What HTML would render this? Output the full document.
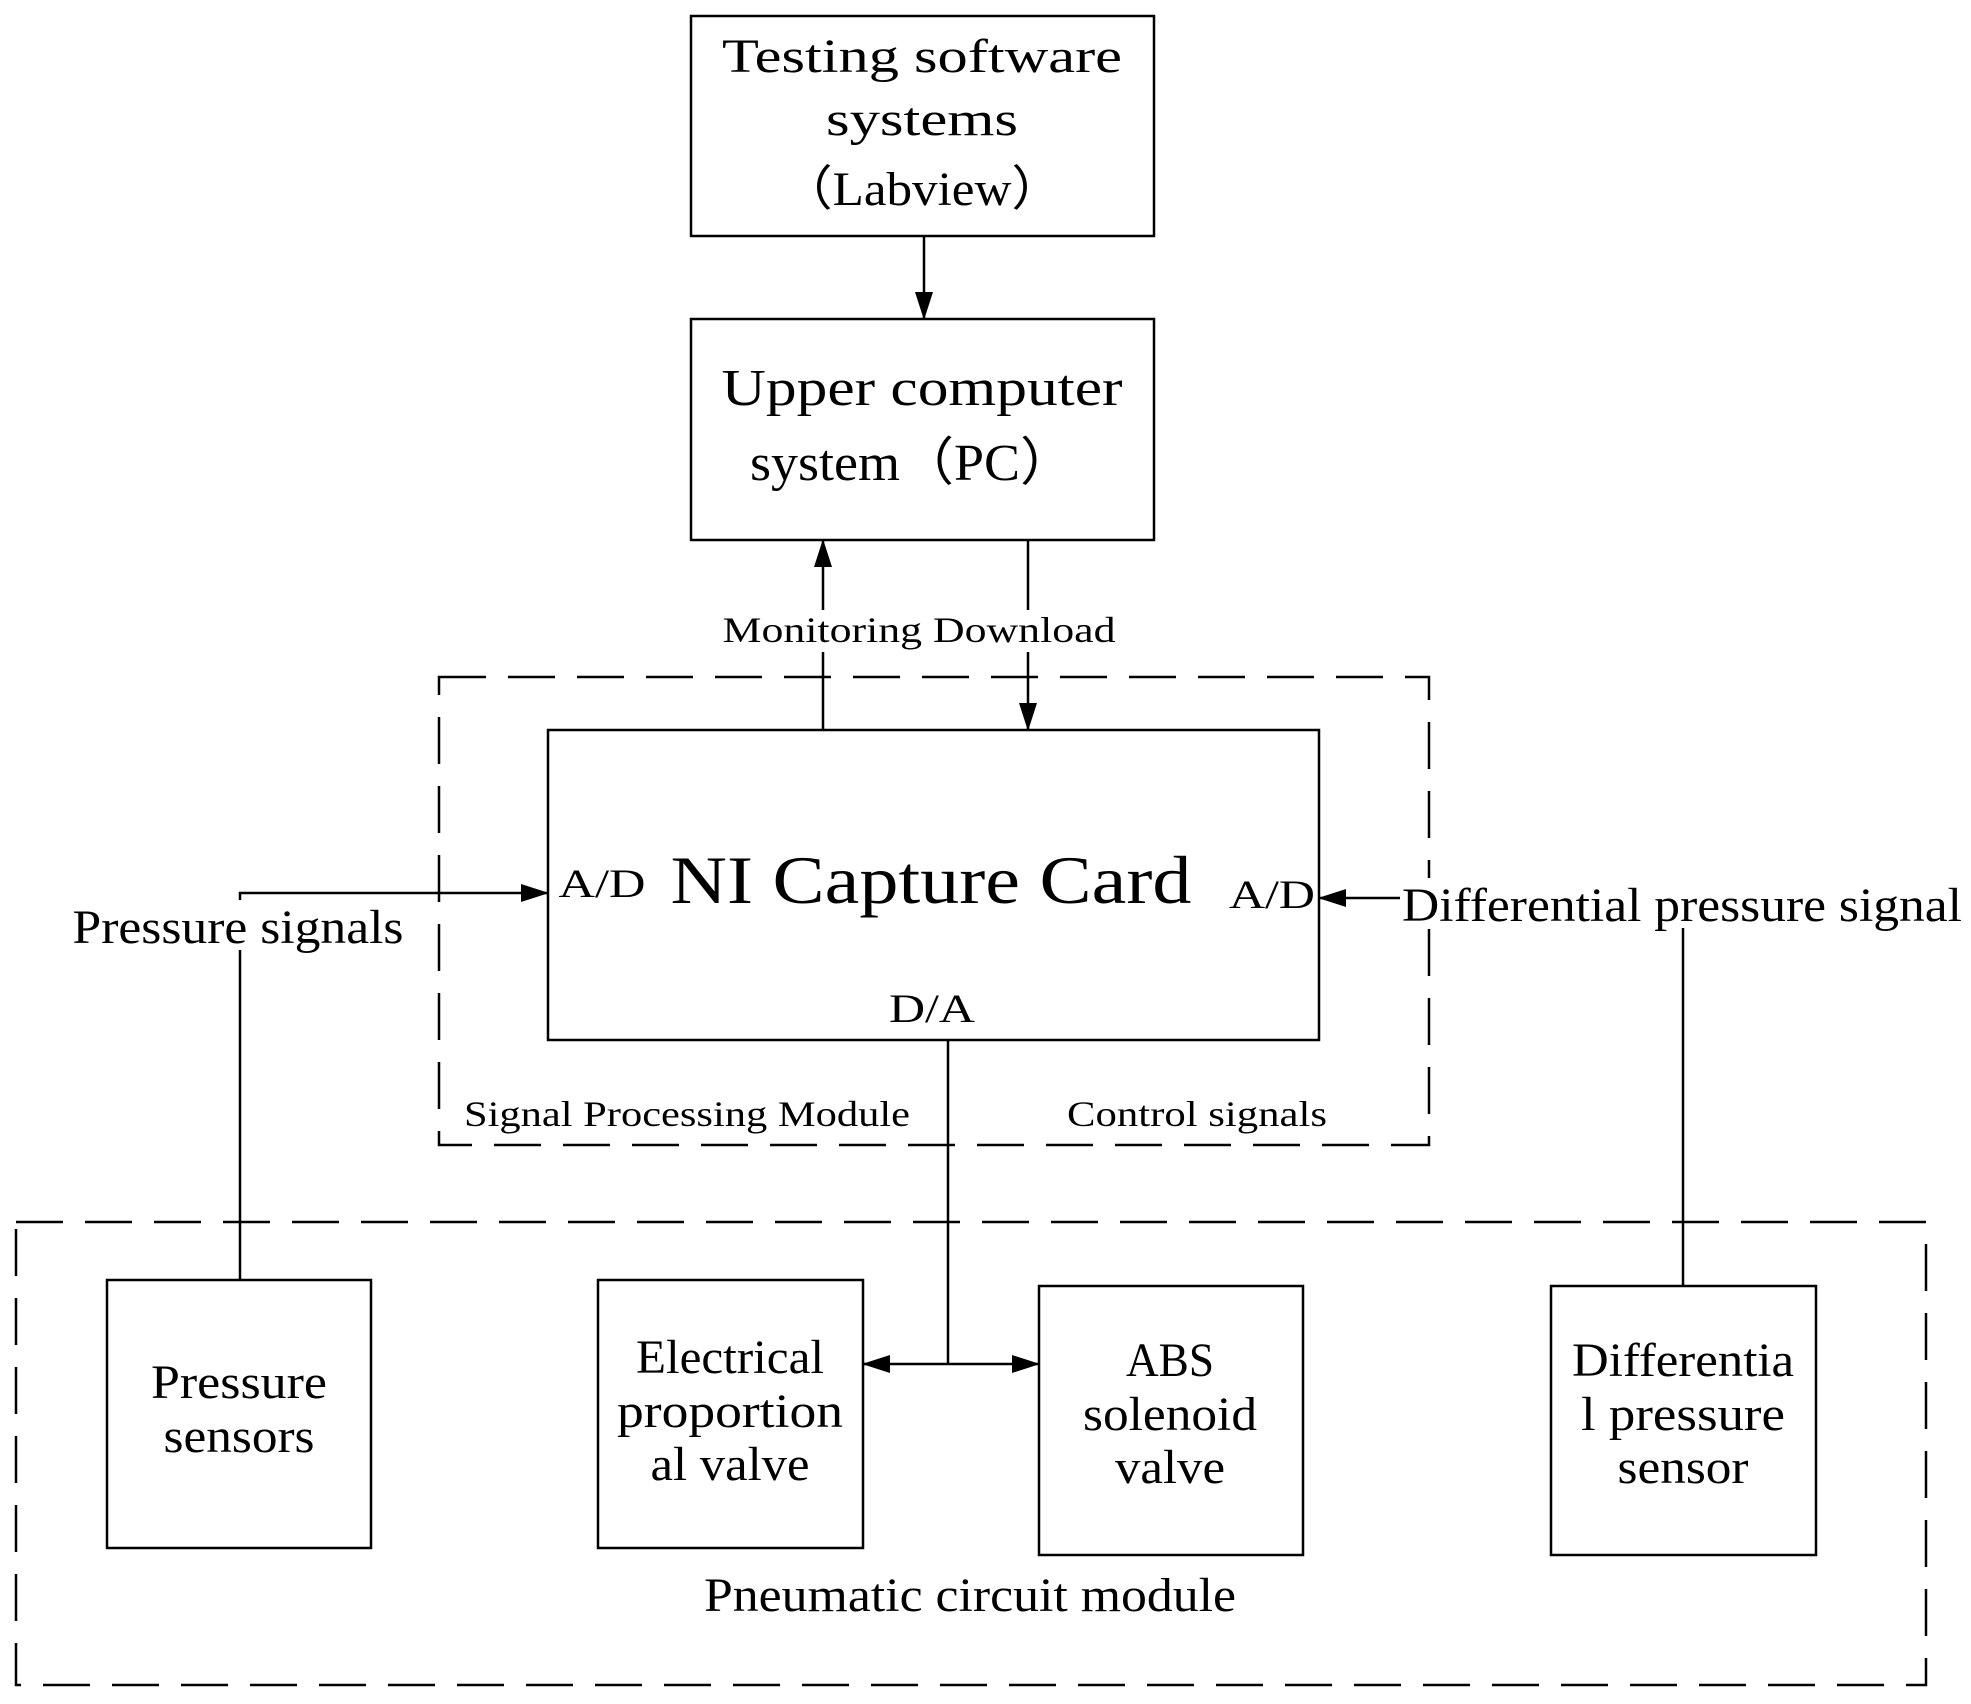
<!DOCTYPE html>
<html><head><meta charset="utf-8"><style>html,body{margin:0;padding:0;background:#fff}svg{display:block}text{font-family:"Liberation Serif",serif;fill:#000}</style></head>
<body>
<svg width="1971" height="1704" viewBox="0 0 1971 1704" xmlns="http://www.w3.org/2000/svg">
<defs><marker id="a" markerWidth="10" markerHeight="10" refX="9" refY="5" orient="auto" markerUnits="userSpaceOnUse" viewBox="0 0 10 10"><path d="M0,0 L10,5 L0,10z" fill="#000"/></marker>
<marker id="b" markerWidth="28" markerHeight="28" refX="27" refY="14" orient="auto" markerUnits="userSpaceOnUse" viewBox="0 0 28 28"><path d="M0,5 L28,14 L0,23z" fill="#000"/></marker></defs>
<g fill="none" stroke="#000" stroke-width="2.5">
<rect x="691" y="16" width="463" height="220"/>
<rect x="691" y="319" width="463" height="221"/>
<rect x="548" y="730" width="771" height="310"/>
<rect x="107" y="1280" width="264" height="268"/>
<rect x="598" y="1280" width="265" height="268"/>
<rect x="1039" y="1286" width="264" height="269"/>
<rect x="1551" y="1286" width="265" height="269"/>
<g stroke-dasharray="47,22"><rect x="439" y="677" width="990" height="468"/><rect x="16" y="1222" width="1910" height="463"/></g>
<line x1="924" y1="236" x2="924" y2="319" marker-end="url(#b)"/>
<line x1="823" y1="730" x2="823" y2="540" marker-end="url(#b)"/>
<line x1="1028" y1="540" x2="1028" y2="730" marker-end="url(#b)"/>
<polyline points="240,1280 240,893 548,893" marker-end="url(#b)"/>
<polyline points="1683,1286 1683,898 1319,898" marker-end="url(#b)"/>
<line x1="948" y1="1040" x2="948" y2="1364"/>
<line x1="948" y1="1364" x2="863" y2="1364" marker-end="url(#b)"/>
<line x1="948" y1="1364" x2="1039" y2="1364" marker-end="url(#b)"/>
</g>
<rect x="690" y="610" width="436" height="42" fill="#fff"/>
<rect x="60" y="900" width="350" height="50" fill="#fff"/>
<rect x="1400" y="878" width="565" height="50" fill="#fff"/>
<g font-size="48" text-anchor="middle" lengthAdjust="spacingAndGlyphs">
<text x="922" y="72" textLength="400" lengthAdjust="spacingAndGlyphs">Testing software</text>
<text x="922" y="135" textLength="192" lengthAdjust="spacingAndGlyphs">systems</text>
<text x="922" y="205" textLength="281" lengthAdjust="spacingAndGlyphs">（Labview）</text>
<text x="922" y="405" font-size="52" textLength="401" lengthAdjust="spacingAndGlyphs">Upper computer</text>
<text x="912" y="480" font-size="52" textLength="324" lengthAdjust="spacingAndGlyphs">system（PC）</text>
<text x="239" y="1398" textLength="176" lengthAdjust="spacingAndGlyphs">Pressure</text>
<text x="239" y="1452" textLength="151" lengthAdjust="spacingAndGlyphs">sensors</text>
<text x="730" y="1373" textLength="188" lengthAdjust="spacingAndGlyphs">Electrical</text>
<text x="730" y="1427" textLength="226" lengthAdjust="spacingAndGlyphs">proportion</text>
<text x="730" y="1480" textLength="159" lengthAdjust="spacingAndGlyphs">al valve</text>
<text x="1170" y="1376" textLength="88" lengthAdjust="spacingAndGlyphs">ABS</text>
<text x="1170" y="1430" textLength="174" lengthAdjust="spacingAndGlyphs">solenoid</text>
<text x="1170" y="1483" textLength="110" lengthAdjust="spacingAndGlyphs">valve</text>
<text x="1683" y="1376" textLength="222" lengthAdjust="spacingAndGlyphs">Differentia</text>
<text x="1683" y="1430" textLength="204" lengthAdjust="spacingAndGlyphs">l pressure</text>
<text x="1683" y="1483" textLength="131" lengthAdjust="spacingAndGlyphs">sensor</text>
<text x="970" y="1611" textLength="532" lengthAdjust="spacingAndGlyphs">Pneumatic circuit module</text>
<text x="238" y="943" textLength="331" lengthAdjust="spacingAndGlyphs">Pressure signals</text>
<text x="1682" y="921" textLength="560" lengthAdjust="spacingAndGlyphs">Differential pressure signal</text>
<text x="931" y="903" font-size="68" textLength="521" lengthAdjust="spacingAndGlyphs">NI Capture Card</text>
<text x="602" y="897" font-size="40" textLength="87" lengthAdjust="spacingAndGlyphs">A/D</text>
<text x="1272" y="908" font-size="40" textLength="86" lengthAdjust="spacingAndGlyphs">A/D</text>
<text x="932" y="1022" font-size="40" textLength="86" lengthAdjust="spacingAndGlyphs">D/A</text>
<text x="919" y="642" font-size="36" textLength="393" lengthAdjust="spacingAndGlyphs">Monitoring Download</text>
<text x="687" y="1126" font-size="36" textLength="446" lengthAdjust="spacingAndGlyphs">Signal Processing Module</text>
<text x="1197" y="1126" font-size="36" textLength="260" lengthAdjust="spacingAndGlyphs">Control signals</text>
</g>
</svg>
</body></html>
